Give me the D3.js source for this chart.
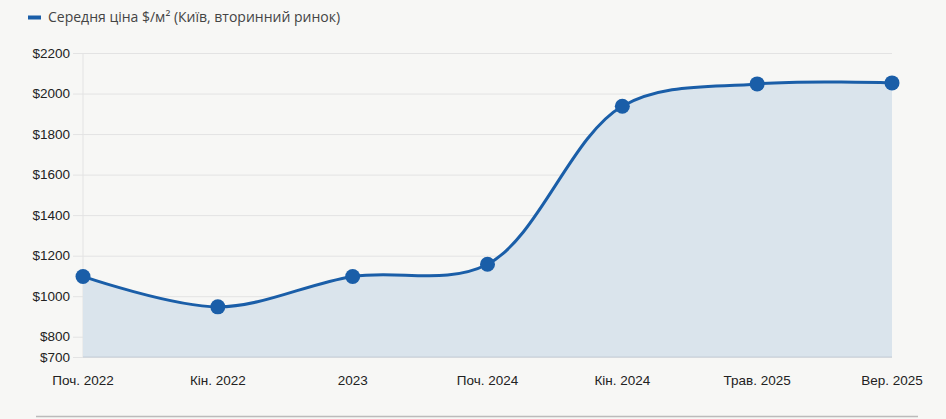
<!DOCTYPE html>
<html><head><meta charset="utf-8">
<script src="https://cdn.jsdelivr.net/npm/d3@7"></script>
<style>
html,body{margin:0;padding:0;background:#f7f7f5;}
svg{display:block;}
</style></head>
<body>
<svg id="c" width="946" height="419"></svg>
<script>
const categories = ["Поч. 2022","Кін. 2022","2023","Поч. 2024","Кін. 2024","Трав. 2025","Вер. 2025"];
const values = [1100, 950, 1100, 1160, 1940, 2050, 2055];
const yTicks = [700, 800, 1000, 1200, 1400, 1600, 1800, 2000, 2200];
const seriesName = "Середня ціна $/м² (Київ, вторинний ринок)";

const svg = d3.select("#c");
const W = 946, H = 419;
const m = {left: 83, right: 54, top: 53, bottom: 62};
const x = d3.scalePoint().domain(categories).range([m.left, W - m.right]);
const y = d3.scaleLinear().domain([700, 2200]).range([H - m.bottom, m.top]);

svg.append("rect").attr("width", W).attr("height", H).attr("fill", "#f7f7f5");

// grid
svg.append("g").selectAll("line").data(yTicks).join("line")
  .attr("x1", m.left - 10).attr("x2", W - m.right)
  .attr("y1", d => y(d) + 0.5).attr("y2", d => y(d) + 0.5)
  .attr("stroke", "#e3e3e3").attr("stroke-width", 1);
svg.append("line").attr("x1", m.left).attr("x2", m.left)
  .attr("y1", m.top).attr("y2", y(700)).attr("stroke", "#e3e3e3");

// y labels
svg.append("g").selectAll("text").data(yTicks).join("text")
  .attr("x", m.left - 13).attr("y", d => y(d)).attr("dy", "0.35em")
  .attr("text-anchor", "end").attr("font-family", "Liberation Sans, Arial, sans-serif")
  .attr("font-size", 13.5).attr("fill", "#222").text(d => "$" + d);

// x labels
svg.append("g").selectAll("text").data(categories).join("text")
  .attr("x", d => x(d)).attr("y", 385)
  .attr("text-anchor", "middle").attr("font-family", "Liberation Sans, Arial, sans-serif")
  .attr("font-size", 13.5).attr("fill", "#222").text(d => d);

const pts = categories.map((c, i) => [x(c), y(values[i]) + 0.5]);
const curve = d3.curveCatmullRom.alpha(0.5);

svg.append("path")
  .attr("d", d3.area().x(d => d[0]).y0(y(700)).y1(d => d[1]).curve(curve)(pts))
  .attr("fill", "#dae4ec");

svg.append("line").attr("x1", m.left).attr("x2", W - m.right)
  .attr("y1", y(700)).attr("y2", y(700)).attr("stroke", "#c5ced8").attr("stroke-width", 1);

svg.append("path")
  .attr("d", d3.line().x(d => d[0]).y(d => d[1]).curve(curve)(pts))
  .attr("fill", "none").attr("stroke", "#1a5ea8").attr("stroke-width", 3);

svg.append("g").selectAll("circle").data(pts).join("circle")
  .attr("cx", d => d[0]).attr("cy", d => d[1]).attr("r", 7.5)
  .attr("fill", "#1a5ea8");

// legend
svg.append("rect").attr("x", 28).attr("y", 15.5).attr("width", 13).attr("height", 4).attr("fill", "#1a5ea8");
svg.append("text").attr("x", 48).attr("y", 22).attr("font-family", "Open Sans, Noto Sans, sans-serif")
  .attr("font-size", 14).attr("fill", "#444").text(seriesName);

// bottom rule
svg.append("line").attr("x1", 36).attr("x2", 918).attr("y1", 416.5).attr("y2", 416.5)
  .attr("stroke", "#bbbbbb").attr("stroke-width", 1.5);
</script>
</body></html>
